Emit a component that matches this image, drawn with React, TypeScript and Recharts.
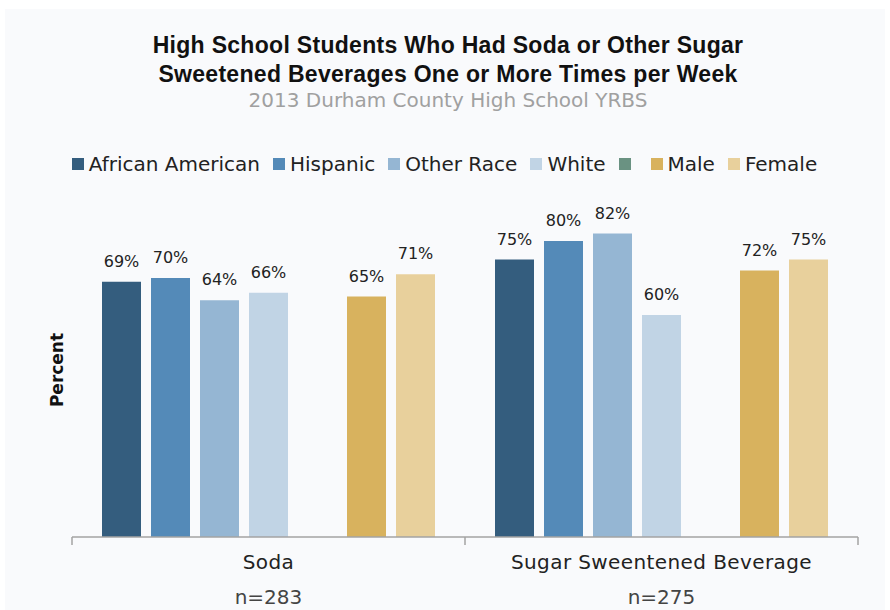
import { Bar, BarChart, LabelList, XAxis, YAxis } from "recharts";

const categories = ["Soda", "Sugar Sweentened Beverage"];
const sampleSizes = ["n=283", "n=275"];

const seriesNames = ["African American", "Hispanic", "Other Race", "White", "", "Male", "Female"];
const seriesColors = ["#345d7e", "#548ab8", "#95b6d3", "#c1d4e5", "#6a9282", "#d8b25e", "#e8d09c"];

const africanAmerican = [69, 75];
const hispanic = [70, 80];
const otherRace = [64, 82];
const white = [66, 60];
const spacer: (number | null)[] = [null, null];
const male = [65, 72];
const female = [71, 75];

const seriesValues = [africanAmerican, hispanic, otherRace, white, spacer, male, female];
const seriesKeys = ["aa", "hisp", "other", "white", "blank", "male", "female"];

const rows = categories.map((category, i) => {
  const row: Record<string, string | number | null> = { category, n: sampleSizes[i] };
  seriesKeys.forEach((key, s) => {
    row[key] = seriesValues[s][i];
  });
  return row;
});

const FONT = "'DejaVu Sans', sans-serif";
const AXIS_COLOR = "#a3a3a3";

// Category name + sample size, plus the boundary tick marks between categories.
const CategoryTick = (props: any) => {
  const { x, y, payload, index, visibleTicksCount } = props;
  const half = payload.offset ?? 0;
  const isLast = index === visibleTicksCount - 1;
  return (
    <g>
      <line x1={x - half} x2={x - half} y1={y} y2={y + 8} stroke={AXIS_COLOR} strokeWidth={1.5} />
      {isLast && <line x1={x + half} x2={x + half} y1={y} y2={y + 8} stroke={AXIS_COLOR} strokeWidth={1.5} />}
      <text x={x} y={y + 32} textAnchor="middle" fontFamily={FONT} fontSize={20} letterSpacing={0.4} fill="#222">
        {payload.value}
      </text>
      <text x={x} y={y + 67} textAnchor="middle" fontFamily={FONT} fontSize={20} fill="#444">
        {sampleSizes[index]}
      </text>
    </g>
  );
};

export default function App() {
  return (
    <div style={{ position: "absolute", left: 0, top: 0, width: 890, height: 610, background: "#fff" }}>
      <div style={{ position: "absolute", left: 5, top: 9, width: 880, height: 601, background: "#f9fafc" }} />

      <div
        style={{
          position: "absolute",
          left: 0,
          top: 31,
          width: 896,
          textAlign: "center",
          fontFamily: "'Liberation Sans', Arial, sans-serif",
          fontWeight: 700,
          fontSize: 23,
          letterSpacing: 0.3,
          lineHeight: "29px",
          color: "#111",
        }}
      >
        High School Students Who Had Soda or Other Sugar
        <br />
        Sweetened Beverages One or More Times per Week
      </div>
      <div
        style={{
          position: "absolute",
          left: 0,
          top: 88,
          width: 896,
          textAlign: "center",
          fontFamily: FONT,
          fontSize: 20,
          color: "#a0a0a0",
        }}
      >
        2013 Durham County High School YRBS
      </div>

      <div
        style={{
          position: "absolute",
          left: 0,
          top: 152,
          width: 902,
          display: "flex",
          justifyContent: "center",
          alignItems: "center",
          fontFamily: FONT,
          fontSize: 20,
          color: "#222",
        }}
      >
        {seriesNames.map((name, i) => (
          <span key={i} style={{ display: "flex", alignItems: "center", marginRight: name ? 13 : 15 }}>
            <span style={{ width: 12, height: 12, background: seriesColors[i], display: "inline-block", marginRight: 5 }} />
            {name}
          </span>
        ))}
      </div>

      <div
        style={{
          position: "absolute",
          left: 57 - 50,
          top: 370 - 12,
          width: 100,
          height: 24,
          lineHeight: "24px",
          textAlign: "center",
          transform: "rotate(-90deg)",
          fontFamily: FONT,
          fontWeight: 700,
          fontSize: 17,
          color: "#111",
        }}
      >
        Percent
      </div>

      <div style={{ position: "absolute", left: 0, top: 0 }}>
        <BarChart
          width={890}
          height={610}
          data={rows}
          margin={{ top: 167, right: 32, bottom: 0, left: 72 }}
          barSize={39}
          barGap={10}
        >
          <YAxis hide domain={[0, 100]} />
          <XAxis
            dataKey="category"
            height={73}
            axisLine={{ stroke: AXIS_COLOR, strokeWidth: 1.5 }}
            tickLine={false}
            tickSize={0}
            tickMargin={0}
            interval={0}
            tick={<CategoryTick />}
          />
          {seriesKeys.map((key, i) => (
            <Bar key={key} dataKey={key} name={seriesNames[i]} fill={seriesColors[i]} isAnimationActive={false}>
              {key !== "blank" && (
                <LabelList
                  dataKey={key}
                  position="top"
                  offset={15}
                  fontFamily={FONT}
                  fontSize={16}
                  fill="#222"
                  formatter={(v: any) => `${v}%`}
                />
              )}
            </Bar>
          ))}
        </BarChart>
      </div>
    </div>
  );
}
